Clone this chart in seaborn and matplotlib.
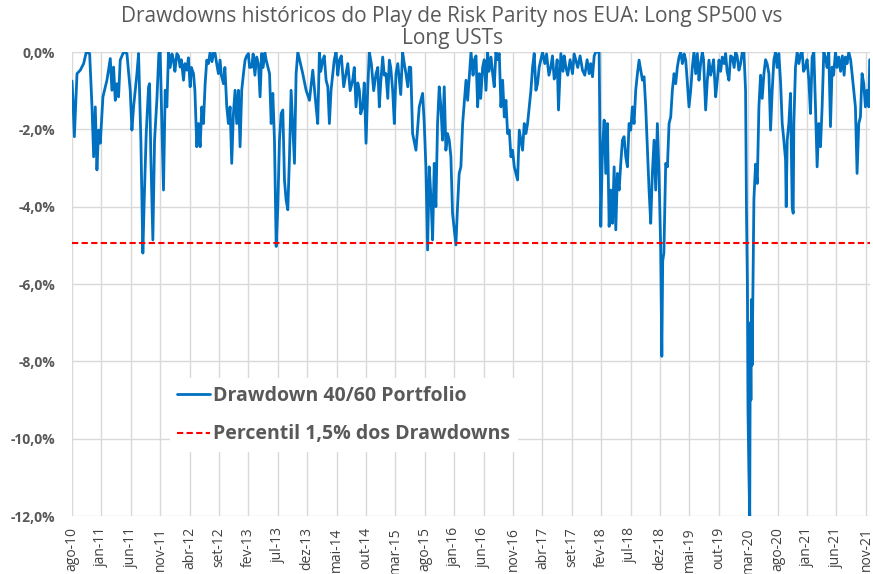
import numpy as np
import pandas as pd
import matplotlib.pyplot as plt
import seaborn as sns

# months since ago-10 and drawdown (%)
months = [
    0.0, 0.15, 0.4, 0.85, 1.41, 1.98, 2.43, 3.0, 3.4, 3.68, 3.96, 4.24, 4.53, 4.81, 5.26, 5.94,
    6.51, 6.79, 7.07, 7.36, 7.64, 7.92, 8.2, 8.77, 9.34, 9.9, 10.19, 10.47, 11.04, 11.32, 11.71,
    12.05, 12.28, 12.62, 13.02, 13.19, 13.41, 13.75, 14.04, 14.43, 14.77, 15.0, 15.28, 15.56,
    15.85, 16.13, 16.41, 17.26, 17.83, 18.39, 18.96, 19.52, 20.09, 20.66, 21.22, 21.5, 21.79,
    22.07, 22.35, 22.64, 22.92, 23.49, 24.34, 24.9, 25.18, 25.75, 26.32, 26.6, 26.88, 27.16,
    27.45, 27.73, 28.01, 28.3, 28.58, 28.86, 29.43, 29.99, 30.56, 31.41, 31.98, 32.26, 33.02,
    33.59, 33.87, 34.15, 34.43, 34.72, 35.0, 35.28, 35.57, 35.85, 36.13, 36.41, 36.7, 36.98,
    37.26, 37.55, 37.83, 38.11, 38.4, 39.24, 39.81, 40.38, 40.94, 41.51, 41.79, 42.07, 42.64,
    43.21, 43.77, 44.05, 44.34, 44.9, 45.47, 46.6, 47.73, 48.3, 48.87, 49.43, 50.0, 50.28,
    50.56, 51.7, 52.26, 52.83, 53.39, 53.96, 54.53, 54.81, 55.09, 55.66, 56.22, 56.79, 57.35,
    57.92, 58.49, 59.05, 59.62, 59.9, 60.18, 60.47, 60.75, 61.03, 61.32, 61.6, 61.88, 62.16,
    62.45, 62.73, 63.01, 63.3, 63.58, 63.86, 64.15, 64.43, 64.71, 65.28, 65.56, 65.84, 66.13,
    66.43, 67.0, 67.28, 67.85, 68.42, 68.98, 69.26, 69.83, 70.4, 70.68, 71.25, 71.53, 72.09,
    72.66, 72.94, 73.23, 73.51, 73.79, 74.07, 74.36, 74.64, 74.92, 75.21, 75.49, 75.77, 76.06,
    76.34, 76.62, 76.9, 77.19, 77.47, 77.75, 78.04, 78.32, 78.6, 78.89, 79.17, 79.45, 80.02,
    81.43, 82.28, 82.73, 83.13, 83.98, 85.11, 85.68, 86.81, 87.94, 88.51, 89.07, 89.64, 89.92,
    90.2, 90.49, 90.77, 91.05, 91.34, 91.62, 91.9, 92.19, 92.47, 92.75, 93.04, 93.32, 93.6,
    93.88, 94.17, 94.45, 94.73, 95.01, 95.3, 95.58, 95.86, 96.15, 96.43, 96.71, 97.0, 97.28,
    97.56, 97.84, 98.13, 98.41, 98.69, 98.98, 99.26, 99.54, 99.82, 100.1, 100.3, 100.45,
    100.65, 100.96, 101.25, 101.53, 101.81, 102.09, 102.38, 102.66, 102.94, 103.23, 103.51,
    104.36, 104.92, 105.21, 105.49, 105.77, 106.06, 106.34, 106.62, 107.19, 107.75, 108.04,
    108.32, 108.89, 109.45, 109.73, 110.02, 110.58, 111.15, 111.71, 112.28, 112.85, 113.41,
    113.98, 114.26, 114.54, 114.7, 114.85, 114.95, 115.1, 115.25, 115.35, 115.45, 115.55,
    115.65, 115.8, 115.96, 116.24, 116.53, 116.81, 117.09, 117.37, 117.66, 117.94, 118.51,
    118.79, 119.07, 119.35, 119.64, 120.2, 120.77, 121.05, 121.34, 121.45, 121.62, 121.9,
    122.18, 122.47, 122.64, 122.75, 123.03, 123.32, 124.17, 124.73, 125.3, 125.58, 125.86,
    126.15, 126.43, 126.71, 127.0, 127.28, 127.56, 127.84, 128.13, 128.69, 128.98, 129.26,
    129.83, 130.39, 131.52, 132.09, 132.65, 133.22, 133.5, 133.79, 134.07, 134.35, 134.64,
    134.92, 135.2, 135.49, 135.65,
]
drawdown = [
    -0.75, -1.2, -2.19, -0.56, -0.47, -0.3, 0, -0.04, -1.42, -2.71, -1.42, -3.05, -2.02, -2.36, -1.16, -0.73,
    -0.17, -0.99, -0.39, -1.25, -0.82, -1.16, -0.21, 0, -0.04, -0.99, -2.02, -1.42, -0.56, -0.04, -2.28,
    -5.2, -3.83, -2.11, -0.9, -0.82, -2.71, -4.86, -2.28, -1.25, -0.04, 0, -1.85, -3.57,
    -0.99, -1.42, 0, -0.21, -0.04, -0.39, -0.73, -0.47, -0.9, -0.56, -2.45, -1.85, -2.45,
    -1.42, -1.85, -0.82, -0.21, 0, -0.04, -0.56, -0.21, -0.82, -1.42, -1.85, -1.42, -2.88,
    -1.59, -0.99, -1.85, -0.99, -2.45, -0.99, -0.21, -0.04, -0.39, -0.13, -1.16, -0.04, -0.21,
    -0.56, -1.85, -1.07, -2.28, -5.03, -4.0, -2.28, -1.59, -1.5, -3.31, -3.83, -4.08, -2.71,
    -0.99, -1.93, -2.88, -0.56, 0, -0.56, -0.99, -1.25, -0.47, -1.42, -1.85, 0, -0.21,
    -0.73, -1.85, -0.99, -0.56, 0, -0.21, -0.56, -0.73, -1.42, -0.99, -1.42, -2.36, -0.99,
    0, -0.56, -1.42, -0.13, -0.56, -0.21, -0.99, -1.85, -0.56, -0.73, 0, -0.56, -0.39,
    -2.11, -2.54, -1.42, -1.07, -1.85, -2.97, -5.12, -2.97, -3.74, -4.86, -2.88, -4.0, -1.85,
    -0.9, -1.42, -2.28, -0.9, -2.54, -2.11, -2.28, -2.71, -4.17, -4.99, -4.0, -3.14, -2.97,
    -1.85, -0.73, -1.25, 0, -0.21, -1.42, -0.56, -0.39, -0.99, 0, -0.13, -0.56, 0,
    -0.04, -1.42, -0.73, -1.68, -1.25, -2.11, -2.02, -2.71, -2.54, -2.97, -3.14, -3.31, -2.02,
    -2.28, -2.54, -1.85, -2.11, -1.85, -1.42, -0.99, -0.39, -0.04, -0.99, -0.82, -0.39, 0,
    -0.39, -0.56, -1.5, -0.04, -0.39, -0.56, -0.21, -0.47, -0.56, -0.64, 0, 0, -4.51,
    -2.54, -1.76, -3.14, -1.85, -4.51, -3.57, -4.43, -2.97, -4.6, -3.14, -3.57, -2.88, -2.28,
    -2.19, -2.71, -2.97, -1.85, -2.02, -1.42, -1.85, -0.99, -0.56, -0.21, -0.47, -0.73, -0.64,
    -1.42, -2.45, -3.57, -4.43, -3.14, -2.28, -3.57, -1.85, -3.14, -5.03, -7.87, -5.4,
    -5.2, -2.88, -2.97, -1.85, -1.68, -0.99, -0.56, -0.82, -0.39, -0.13, 0,
    -0.21, -1.42, -0.99, -0.39, 0, -0.56, -0.04, -0.73, 0, -1.5, -0.73,
    -0.21, -0.39, -1.16, -0.73, -0.21, -0.13, -0.04, -0.73, -0.13, 0, -0.47,
    0, 0, -0.99, -4.17, -6.0, -9.25, -10.8, -12.0, -7.0, -9.0, -6.4,
    -8.1, -5.9, -3.8, -2.9, -3.4, -1.42, -0.6, -1.2, -0.56, -0.2, -0.56,
    -2.02, -0.99, -0.21, 0, -0.04, -1.85, -2.28, -2.79, -4.0, -2.28, -1.85,
    -1.07, -4.0, -4.17, -1.85, -0.39, 0, 0, -0.39, -0.73, -1.59, -0.13,
    0, -1.42, -2.97, -1.85, -2.45, -1.42, 0, -0.13, 0, -1.93, -0.39,
    0, -0.13, -0.13, 0, -0.56, -1.42, -3.14, -1.85, -1.68, -0.56, -0.82,
    -1.42, -0.99, -1.42, -0.2,
]
# extra readings of the fast wiggles close to the top of the chart
months_extra = [
    16.7, 17.0, 17.5, 18.1, 18.6, 19.2, 19.8, 20.3, 20.9,
    23.2, 23.8, 24.1, 24.6, 25.4, 26.0,
    29.2, 29.7, 30.2, 30.8, 31.1, 31.7, 32.5, 32.8,
    42.3, 42.9, 43.5, 44.6, 45.2, 45.8, 46.2, 46.9, 47.3, 48.0, 48.6, 49.1, 49.7,
    50.9, 51.3, 52.0, 52.5, 53.1, 53.7, 54.2, 55.4, 55.9, 56.5, 57.1, 57.6,
    68.2, 68.7, 69.5, 70.1, 70.9, 71.8, 72.3,
    80.4, 80.7, 81.1, 81.7, 82.0, 82.5, 83.5, 83.7, 84.3, 84.7, 85.4, 86.0, 86.4, 87.2,
    87.6, 88.2, 88.8,
    103.8, 104.1, 104.6, 106.9, 107.4, 108.6, 109.1, 110.3, 110.9, 111.4, 112.0, 112.6,
    113.1, 113.7,
    118.2, 119.9, 120.5,
    123.6, 123.9, 124.4, 125.0, 128.4, 129.5, 130.1, 130.7, 131.0, 131.3, 131.8, 132.4,
]
drawdown_extra = [
    -0.4, -0.05, -0.5, -0.1, -0.2, -0.3, -0.15, -0.4, -1.0,
    -0.3, -0.25, 0, -0.3, -0.6, -0.4,
    -0.5, -0.1, -0.4, -0.05, -0.6, -0.3, -0.4, -0.02,
    -0.5, -0.1, -0.9, -0.2, -0.6, -0.1, -0.9, -0.3, -1.0, -0.4, -0.8, -1.6, -0.8,
    -0.3, -1.0, -0.4, -0.8, -0.6, -1.2, -0.4, -0.3, -1.1, -0.3, -0.9, -0.4,
    -0.6, -0.1, -1.2, -0.2, -0.5, -0.9, -0.2,
    -0.3, -0.05, -0.6, -0.1, -0.7, -0.2, -0.5, -0.1, -0.6, -0.2, -0.05, -0.4, -0.1, -0.6,
    -0.2, -0.3, -0.1,
    -0.3, -0.05, -0.7, -0.3, -0.2, -0.6, -0.2, -0.5, -0.3, -0.5, -0.1, -0.4,
    -0.1, -0.3,
    -0.3, -0.4, -0.8,
    -0.3, -0.05, -0.5, -0.2, -0.4, -0.6, -0.4, -0.5, -0.1, -0.6, -0.3, -0.2,
]
percentil_15 = -4.93

tick_labels = [
    "ago-10", "jan-11", "jun-11", "nov-11", "abr-12", "set-12", "fev-13", "jul-13", "dez-13",
    "mai-14", "out-14", "mar-15", "ago-15", "jan-16", "jun-16", "nov-16", "abr-17", "set-17",
    "fev-18", "jul-18", "dez-18", "mai-19", "out-19", "mar-20", "ago-20", "jan-21", "jun-21",
    "nov-21",
]
y_ticks = [0, -2, -4, -6, -8, -10, -12]

df = pd.concat([
    pd.DataFrame({"mes": months, "drawdown": drawdown}),
    pd.DataFrame({"mes": months_extra, "drawdown": drawdown_extra}),
]).sort_values("mes").reset_index(drop=True)

sns.set_style("whitegrid", {"grid.color": "#d9d9d9"})
plt.rcParams["font.family"] = ["Open Sans", "DejaVu Sans"]

fig = plt.figure(figsize=(8.73, 5.74), dpi=100)
ax = fig.add_axes([72 / 873, 58 / 574, 798 / 873, 464 / 574])

sns.lineplot(data=df, x="mes", y="drawdown", ax=ax, color="#0070c0", linewidth=2.0,
             estimator=None, sort=False, label="Drawdown 40/60 Portfolio")
ax.axhline(percentil_15, color="#ff0000", linestyle=(0, (3, 1.6)), linewidth=1.5,
           label="Percentil 1,5% dos Drawdowns")

ax.set_xlim(0, 135.7)
ax.set_ylim(-12, 0)
ax.set_xticks(np.arange(0, 5 * len(tick_labels), 5))
ax.set_xticklabels(tick_labels, rotation=90, fontsize=10, color="#404040")
ax.set_yticks(y_ticks)
ax.set_yticklabels([f"{v:.1f}%".replace(".", ",") for v in y_ticks],
                   fontsize=10, fontweight="bold", color="#595959")
ax.tick_params(axis="x", pad=8, length=0)
ax.tick_params(axis="y", pad=12, length=0)
ax.set_xlabel("")
ax.set_ylabel("")
ax.grid(True, color="#d9d9d9", linewidth=1)
for s in ax.spines.values():
    s.set_visible(False)

leg = ax.legend(loc="upper left", bbox_to_anchor=(0.11, 0.318), frameon=True,
                facecolor="white", edgecolor="none", framealpha=1, fancybox=False,
                handlelength=1.7, handletextpad=0.15, labelspacing=0.95,
                prop={"size": 14, "weight": "bold"})
for t in leg.get_texts():
    t.set_color("#595959")

fig.text(0.518, 0.99, "Drawdowns históricos do Play de Risk Parity nos EUA: Long SP500 vs\nLong USTs",
         ha="center", va="top", fontsize=15, color="#595959", linespacing=1.1)

plt.savefig("out.png", dpi=100)
